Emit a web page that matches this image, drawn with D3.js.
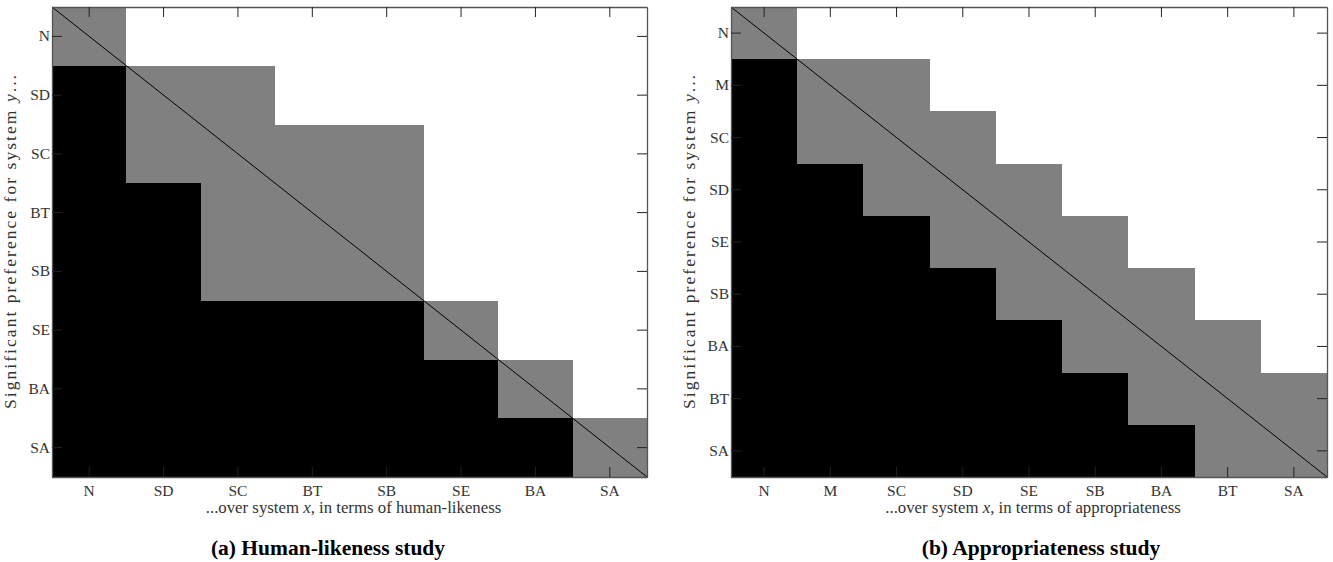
<!DOCTYPE html>
<html>
<head>
<meta charset="utf-8">
<script src="https://cdn.jsdelivr.net/npm/d3@7"></script>
<style>
  body { margin: 0; background: #fff; }
</style>
</head>
<body>
<svg id="chart" width="1333" height="562"></svg>
<script>
// systems, ordered as in each study
const humanCats = ['N', 'SD', 'SC', 'BT', 'SB', 'SE', 'BA', 'SA'];
const approCats = ['N', 'M', 'SC', 'SD', 'SE', 'SB', 'BA', 'BT', 'SA'];

// 1 = y significantly preferred over x, 0 = not significant, -1 = x preferred
const humanPref = [
  [0, -1, -1, -1, -1, -1, -1, -1],
  [1, 0, 0, -1, -1, -1, -1, -1],
  [1, 0, 0, 0, 0, -1, -1, -1],
  [1, 1, 0, 0, 0, -1, -1, -1],
  [1, 1, 0, 0, 0, -1, -1, -1],
  [1, 1, 1, 1, 1, 0, -1, -1],
  [1, 1, 1, 1, 1, 1, 0, -1],
  [1, 1, 1, 1, 1, 1, 1, 0]
];
const approPref = [
  [0, -1, -1, -1, -1, -1, -1, -1, -1],
  [1, 0, 0, -1, -1, -1, -1, -1, -1],
  [1, 0, 0, 0, -1, -1, -1, -1, -1],
  [1, 1, 0, 0, 0, -1, -1, -1, -1],
  [1, 1, 1, 0, 0, 0, -1, -1, -1],
  [1, 1, 1, 1, 0, 0, 0, -1, -1],
  [1, 1, 1, 1, 1, 0, 0, 0, -1],
  [1, 1, 1, 1, 1, 1, 0, 0, 0],
  [1, 1, 1, 1, 1, 1, 1, 0, 0]
];

const xTitles = ['in terms of human-likeness', 'in terms of appropriateness'];
const captions = ['(a) Human-likeness study', '(b) Appropriateness study'];

const FONT = 'Liberation Serif';
const svg = d3.select('#chart');
const color = d3.scaleOrdinal().domain([1, 0, -1]).range(['#000000', '#808080', '#ffffff']);

const panels = [
  { cats: humanCats, pref: humanPref, x0: 52, x1: 647, capX: 328 },
  { cats: approCats, pref: approPref, x0: 731, x1: 1327, capX: 1041 }
];
const plotTop = 7, plotBottom = 477;

panels.forEach((p, pi) => {
  const xScale = d3.scaleBand().domain(p.cats).range([p.x0, p.x1]);
  const yScale = d3.scaleBand().domain(p.cats).range([plotTop, plotBottom]);

  const cells = [];
  p.pref.forEach((row, i) => {
    row.forEach((v, j) => {
      cells.push({ y: p.cats[i], x: p.cats[j], v: v });
    });
  });

  const g = svg.append('g');

  g.append('g').selectAll('rect')
    .data(cells)
    .enter()
    .append('rect')
      .attr('x', (d) => { return xScale(d.x); })
      .attr('y', (d) => { return yScale(d.y); })
      .attr('width', xScale.bandwidth() + 0.5)
      .attr('height', yScale.bandwidth() + 0.5)
      .attr('fill', (d) => { return color(d.v); })
      .attr('shape-rendering', 'crispEdges');

  // diagonal
  g.append('line')
    .attr('x1', p.x0).attr('y1', plotTop)
    .attr('x2', p.x1).attr('y2', plotBottom)
    .attr('stroke', '#000')
    .attr('stroke-width', 1);

  const styleAxis = (sel) => {
    sel.attr('font-family', FONT).attr('font-size', 15.5);
    sel.selectAll('.domain').attr('stroke', '#555').attr('stroke-width', 1.3);
    sel.selectAll('.tick line').attr('stroke', '#222').attr('stroke-width', 1);
    sel.selectAll('text').attr('fill', '#333');
  };

  g.append('g')
    .attr('transform', `translate(${ p.x0 },0)`)
    .call(d3.axisLeft(yScale).tickSizeInner(-10).tickSizeOuter(0).tickPadding(2))
    .call(styleAxis);

  g.append('g')
    .attr('transform', `translate(${ p.x1 },0)`)
    .call(d3.axisRight(yScale).tickSizeInner(-10).tickSizeOuter(0).tickFormat(''))
    .call(styleAxis);

  g.append('g')
    .attr('transform', `translate(0,${ plotBottom })`)
    .call(d3.axisBottom(xScale).tickSizeInner(-10).tickSizeOuter(0).tickPadding(8))
    .call(styleAxis);

  g.append('g')
    .attr('transform', `translate(0,${ plotTop })`)
    .call(d3.axisTop(xScale).tickSizeInner(-10).tickSizeOuter(0).tickFormat(''))
    .call(styleAxis);

  const cx = (p.x0 + p.x1) / 2;

  // axis title is stretched a bit, like the wide serif in the original
  const yt = g.append('text')
    .attr('transform', `translate(${ p.x0 - 36 },${ (plotTop + plotBottom) / 2 }) rotate(-90)`)
    .attr('text-anchor', 'middle')
    .attr('font-family', FONT)
    .attr('font-size', 17.5)
    .attr('textLength', 334)
    .attr('lengthAdjust', 'spacing')
    .attr('fill', '#333');
  yt.append('tspan').text('Significant preference for system ');
  yt.append('tspan').attr('font-style', 'italic').text('y');
  yt.append('tspan').text('...');

  const xt = g.append('text')
    .attr('x', cx + 4)
    .attr('y', 513)
    .attr('text-anchor', 'middle')
    .attr('font-family', FONT)
    .attr('font-size', 16.8)
    .attr('fill', '#333');
  xt.append('tspan').text('...over system ');
  xt.append('tspan').attr('font-style', 'italic').text('x');
  xt.append('tspan').text(', ' + xTitles[pi]);

  g.append('text')
    .attr('x', p.capX)
    .attr('y', 555)
    .attr('text-anchor', 'middle')
    .attr('font-family', FONT)
    .attr('font-weight', 'bold')
    .attr('font-size', 21.5)
    .attr('fill', '#000')
    .text(captions[pi]);
});
</script>
</body>
</html>
